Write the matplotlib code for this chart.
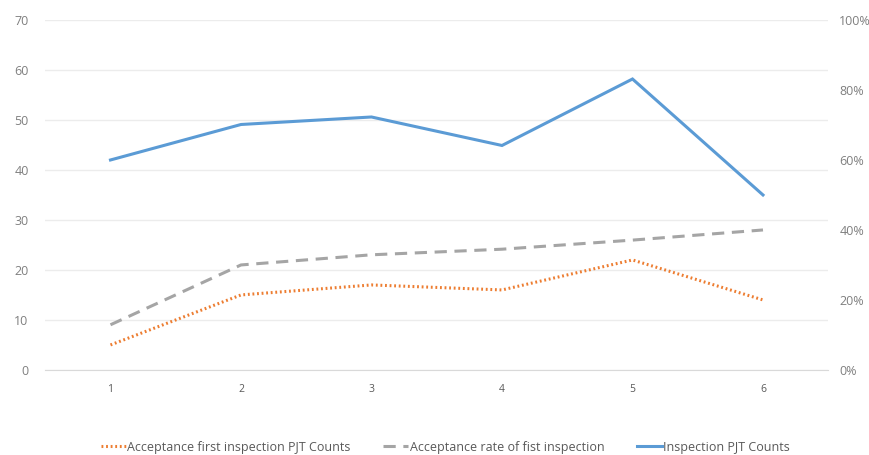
import matplotlib
matplotlib.use("Agg")
import matplotlib.pyplot as plt
from matplotlib.ticker import FuncFormatter

plt.rcParams['font.family'] = ['Open Sans', 'DejaVu Sans']

periods = [1, 2, 3, 4, 5, 6]
accepted_counts = [5, 15, 17, 16, 22, 14]
acceptance_rate = [0.129, 0.30, 0.329, 0.345, 0.371, 0.40]
inspection_counts = [42, 49.1, 50.6, 44.9, 58.2, 35]

left_ticks = [0, 10, 20, 30, 40, 50, 60, 70]
right_ticks = [0, 0.2, 0.4, 0.6, 0.8, 1.0]

orange = '#ED7D31'
gray = '#A5A5A5'
blue = '#5B9BD5'
label_color = '#7f7f7f'

fig = plt.figure(figsize=(8.7, 4.55), dpi=100)
ax = fig.add_axes([0.052, 0.187, 0.9, 0.769])
ax2 = ax.twinx()

l1, = ax.plot(periods, accepted_counts, color=orange, lw=2.2, linestyle=(0, (0.6, 0.9)),
              dash_capstyle='butt', label='Acceptance first inspection PJT Counts')
l3, = ax.plot(periods, inspection_counts, color=blue, lw=2.2,
              label='Inspection PJT Counts', solid_joinstyle='miter')
l2, = ax2.plot(periods, acceptance_rate, color=gray, lw=2.2, linestyle=(0, (4, 2.5)),
               dash_capstyle='butt', label='Acceptance rate of fist inspection')

ax.set_xlim(0.5, 6.5)
ax.set_ylim(0, 70)
ax2.set_ylim(0, 1.0)
ax.set_xticks(periods)
ax.set_yticks(left_ticks)
ax2.set_yticks(right_ticks)
ax2.yaxis.set_major_formatter(FuncFormatter(lambda v, _: f"{v:.0%}"))

ax.grid(axis='y', color='#ececec', lw=1)
ax.set_axisbelow(True)
for a in (ax, ax2):
    for s in a.spines.values():
        s.set_visible(False)
    a.tick_params(length=0, colors=label_color, labelsize=9)
ax.spines['bottom'].set_visible(True)
ax.spines['bottom'].set_color('#d9d9d9')
ax.tick_params(axis='y', pad=12)
ax.tick_params(axis='x', pad=10, labelsize=7.5, colors='#595959')
ax2.tick_params(axis='y', pad=8)

fig.legend(handles=[l1, l2, l3], loc='center', bbox_to_anchor=(0.512, 0.017),
           ncol=3, frameon=False, fontsize=9, labelcolor='#595959',
           handlelength=2.0, handletextpad=0.1, columnspacing=2.6)

fig.savefig('out.png', dpi=100)
